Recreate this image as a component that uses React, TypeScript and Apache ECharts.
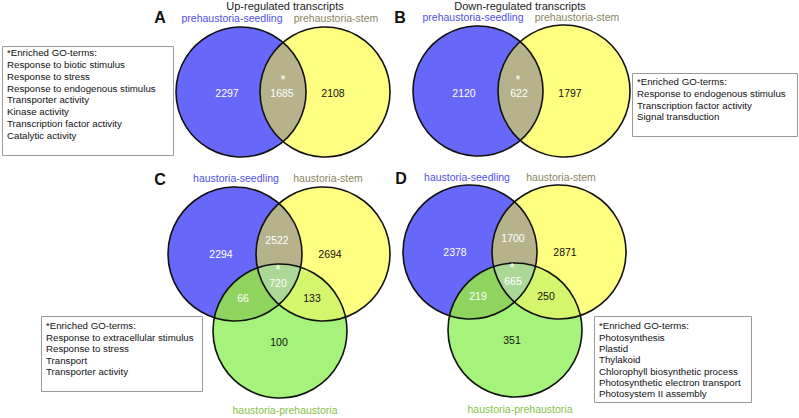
import React, { useEffect, useRef } from 'react';
import * as echarts from 'echarts';

// ---------- data ----------
const panelLetters = ['A', 'B', 'C', 'D'];
const panelTitles = ['Up-regulated transcripts', 'Down-regulated transcripts'];
const twoSetLabels = ['prehaustoria-seedling', 'prehaustoria-stem'];
const threeSetLabels = ['haustoria-seedling', 'haustoria-stem', 'haustoria-prehaustoria'];

// two-set regions: seedling only, seedling∩stem, stem only
const upCounts = [2297, 1685, 2108];
const downCounts = [2120, 622, 1797];
// three-set regions: seedling only, seedling∩stem, stem only, all three,
// seedling∩prehaustoria, stem∩prehaustoria, prehaustoria only
const panelCCounts = [2294, 2522, 2694, 720, 66, 133, 100];
const panelDCounts = [2378, 1700, 2871, 665, 219, 250, 351];

const goTermsA = [
  '*Enriched GO-terms:',
  'Response to biotic stimulus',
  'Response to stress',
  'Response to endogenous stimulus',
  'Transporter activity',
  'Kinase activity',
  'Transcription factor activity',
  'Catalytic activity',
];
const goTermsB = [
  '*Enriched GO-terms:',
  'Response to endogenous stimulus',
  'Transcription factor activity',
  'Signal transduction',
];
const goTermsC = [
  '*Enriched GO-terms:',
  'Response to extracellular stimulus',
  'Response to stress',
  'Transport',
  'Transporter activity',
];
const goTermsD = [
  '*Enriched GO-terms:',
  'Photosynthesis',
  'Plastid',
  'Thylakoid',
  'Chlorophyll biosynthetic process',
  'Photosynthetic electron transport',
  'Photosystem II assembly',
];

// ---------- layout & style ----------
const W = 799;
const H = 418;
const FONT = '"Liberation Sans", Arial, Helvetica, sans-serif';
const BLUE = '#6767f9';
const YELLOW = '#fefe80';
const GREEN = '#a5f37a';
const BY = '#b5b28c';
const BG = '#8fd45f';
const YG = '#d5f56c';
const BYG = '#abd897';
const LBL_BLUE = '#4f4fe6';
const LBL_STEM = '#8a8560';
const LBL_GREEN = '#88c14a';

const panels = [
  {
    counts: upCounts,
    circles: [[241, 92, 65], [325, 92, 65]],
    labelPos: [[227, 93], [282, 93], [333, 93]],
    star: [283, 86],
  },
  {
    counts: downCounts,
    circles: [[478, 91, 65], [564, 91, 66]],
    labelPos: [[464, 93], [519, 93], [570, 93]],
    star: [518, 86],
  },
  {
    counts: panelCCounts,
    circles: [[235, 254, 67], [323, 254, 67], [280, 331, 67]],
    labelPos: [[221, 254], [277, 240], [330, 254], [278, 283], [243, 298], [312, 298], [279, 342]],
    star: [278, 276],
  },
  {
    counts: panelDCounts,
    circles: [[470, 252, 67], [559, 252, 67], [515, 330, 67]],
    labelPos: [[455, 252], [513, 238], [565, 252], [513, 281], [478, 296], [546, 296], [512, 340]],
    star: [512, 274],
  },
];
const twoTextColors = ['#ffffff', '#ffffff', '#111111'];
const threeTextColors = ['#ffffff', '#ffffff', '#111111', '#ffffff', '#ffffff', '#111111', '#111111'];

type Circ = [number, number, number];

function inter(c1: Circ, c2: Circ): [number, number][] {
  const [x1, y1, r1] = c1;
  const [x2, y2, r2] = c2;
  const dx = x2 - x1;
  const dy = y2 - y1;
  const d = Math.hypot(dx, dy);
  const a = (r1 * r1 - r2 * r2 + d * d) / (2 * d);
  const h = Math.sqrt(Math.max(0, r1 * r1 - a * a));
  const ux = dx / d;
  const uy = dy / d;
  const bx = x1 + a * ux;
  const by = y1 + a * uy;
  return [
    [bx + h * uy, by - h * ux],
    [bx - h * uy, by + h * ux],
  ];
}
const pt = (p: number[]) => `${p[0].toFixed(2)} ${p[1].toFixed(2)}`;
function lensPath(c1: Circ, c2: Circ) {
  const [P, Q] = inter(c1, c2);
  return `M${pt(P)} A${c1[2]} ${c1[2]} 0 0 1 ${pt(Q)} A${c2[2]} ${c2[2]} 0 0 1 ${pt(P)} Z`;
}
const inside = (p: number[], c: Circ) => Math.hypot(p[0] - c[0], p[1] - c[1]) < c[2];
function triplePath(b: Circ, y: Circ, g: Circ) {
  const v1 = inter(b, y).find((p) => inside(p, g)) || inter(b, y)[1];
  const v2 = inter(y, g).find((p) => inside(p, b)) || inter(y, g)[0];
  const v3 = inter(g, b).find((p) => inside(p, y)) || inter(g, b)[0];
  const cross = (v2[0] - v1[0]) * (v3[1] - v1[1]) - (v2[1] - v1[1]) * (v3[0] - v1[0]);
  let order: number[][];
  let circs: Circ[];
  if (cross > 0) {
    order = [v1, v2, v3];
    circs = [y, g, b];
  } else {
    order = [v1, v3, v2];
    circs = [b, g, y];
  }
  return (
    `M${pt(order[0])} A${circs[0][2]} ${circs[0][2]} 0 0 1 ${pt(order[1])} ` +
    `A${circs[1][2]} ${circs[1][2]} 0 0 1 ${pt(order[2])} ` +
    `A${circs[2][2]} ${circs[2][2]} 0 0 1 ${pt(order[0])} Z`
  );
}

function renderPanel(params: any, api: any) {
  const p = panels[params.dataIndex];
  const circ: Circ[] = p.circles.map((c) => {
    const [cx, cy] = api.coord([c[0], c[1]]);
    const r = api.size([c[2], 0])[0];
    return [cx, cy, r] as Circ;
  });
  const children: any[] = [];
  const three = circ.length === 3;
  const fills = three ? [BLUE, YELLOW, GREEN] : [BLUE, YELLOW];
  circ.forEach((c, i) =>
    children.push({ type: 'circle', shape: { cx: c[0], cy: c[1], r: c[2] }, style: { fill: fills[i] } })
  );
  children.push({ type: 'path', shape: { pathData: lensPath(circ[0], circ[1]) }, style: { fill: BY } });
  if (three) {
    children.push({ type: 'path', shape: { pathData: lensPath(circ[0], circ[2]) }, style: { fill: BG } });
    children.push({ type: 'path', shape: { pathData: lensPath(circ[1], circ[2]) }, style: { fill: YG } });
    children.push({ type: 'path', shape: { pathData: triplePath(circ[0], circ[1], circ[2]) }, style: { fill: BYG } });
  }
  circ.forEach((c) =>
    children.push({
      type: 'circle',
      shape: { cx: c[0], cy: c[1], r: c[2] },
      style: { fill: 'none', stroke: '#111', lineWidth: 1.6 },
    })
  );
  const colors = three ? threeTextColors : twoTextColors;
  p.counts.forEach((v, i) => {
    const [x, y] = api.coord(p.labelPos[i]);
    children.push({
      type: 'text',
      x,
      y,
      style: {
        text: String(v),
        fill: colors[i],
        fontSize: 10.5,
        fontFamily: FONT,
        align: 'center',
        verticalAlign: 'middle',
      },
    });
  });
  const [sx, sy] = api.coord(p.star);
  children.push({
    type: 'text',
    x: sx,
    y: sy,
    style: { text: '*', fill: '#ffffff', fontSize: 13, fontFamily: FONT, align: 'center', verticalAlign: 'bottom' },
  });
  return { type: 'group', children };
}

const txt = (x: number, y: number, text: string, fill: string, size = 10.5, weight = 'normal') => ({
  type: 'text',
  x,
  y,
  silent: true,
  style: { text, fill, fontSize: size, fontFamily: FONT, fontWeight: weight, align: 'center', verticalAlign: 'middle' },
});
const goBox = (x: number, y: number, w: number, h: number, lines: string[], ty: number, lh: number) => [
  {
    type: 'rect',
    silent: true,
    shape: { x: x + 0.5, y: y + 0.5, width: w, height: h },
    style: { fill: '#ffffff', stroke: '#9a9a9a', lineWidth: 1 },
  },
  {
    type: 'text',
    x: x + 5,
    y: ty,
    silent: true,
    style: {
      text: lines.join('\n'),
      fill: '#111',
      fontSize: 9.7,
      lineHeight: lh,
      fontFamily: FONT,
      align: 'left',
      verticalAlign: 'top',
    },
  },
];

export default function App() {
  const ref = useRef<HTMLDivElement>(null);
  useEffect(() => {
    document.body.style.margin = '0';
    if (!ref.current) return;
    const chart = echarts.init(ref.current, undefined, { renderer: 'svg' });
    chart.setOption({
      animation: false,
      backgroundColor: '#ffffff',
      grid: { left: 0, right: 0, top: 0, bottom: 0 },
      xAxis: { type: 'value', min: 0, max: W, show: false },
      yAxis: { type: 'value', min: 0, max: H, inverse: true, show: false },
      series: [
        {
          type: 'custom',
          silent: true,
          clip: false,
          data: panels.map((_, i) => [i, 0]),
          renderItem: renderPanel,
        },
      ],
      graphic: [
        txt(285, 6, panelTitles[0], '#222', 11),
        txt(520, 6, panelTitles[1], '#222', 11),
        txt(160, 17, panelLetters[0], '#111', 16, 'bold'),
        txt(400, 17, panelLetters[1], '#111', 16, 'bold'),
        txt(160, 179, panelLetters[2], '#111', 16, 'bold'),
        txt(401, 178, panelLetters[3], '#111', 16, 'bold'),
        txt(232, 18, twoSetLabels[0], LBL_BLUE),
        txt(336, 18, twoSetLabels[1], LBL_STEM),
        txt(473, 17, twoSetLabels[0], LBL_BLUE),
        txt(577, 17, twoSetLabels[1], LBL_STEM),
        txt(236, 178, threeSetLabels[0], LBL_BLUE),
        txt(328, 178, threeSetLabels[1], LBL_STEM),
        txt(285, 410, threeSetLabels[2], LBL_GREEN),
        txt(467, 177, threeSetLabels[0], LBL_BLUE),
        txt(561, 177, threeSetLabels[1], LBL_STEM),
        txt(520, 409, threeSetLabels[2], LBL_GREEN),
        ...goBox(2, 46, 171, 109, goTermsA, 47, 11.75),
        ...goBox(632, 73, 165, 63, goTermsB, 76, 11.7),
        ...goBox(41, 316, 161, 75, goTermsC, 320, 11.5),
        ...goBox(594, 316, 157, 86, goTermsD, 320, 11.35),
      ],
    });
    return () => chart.dispose();
  }, []);
  return <div ref={ref} style={{ width: W, height: H }} />;
}
